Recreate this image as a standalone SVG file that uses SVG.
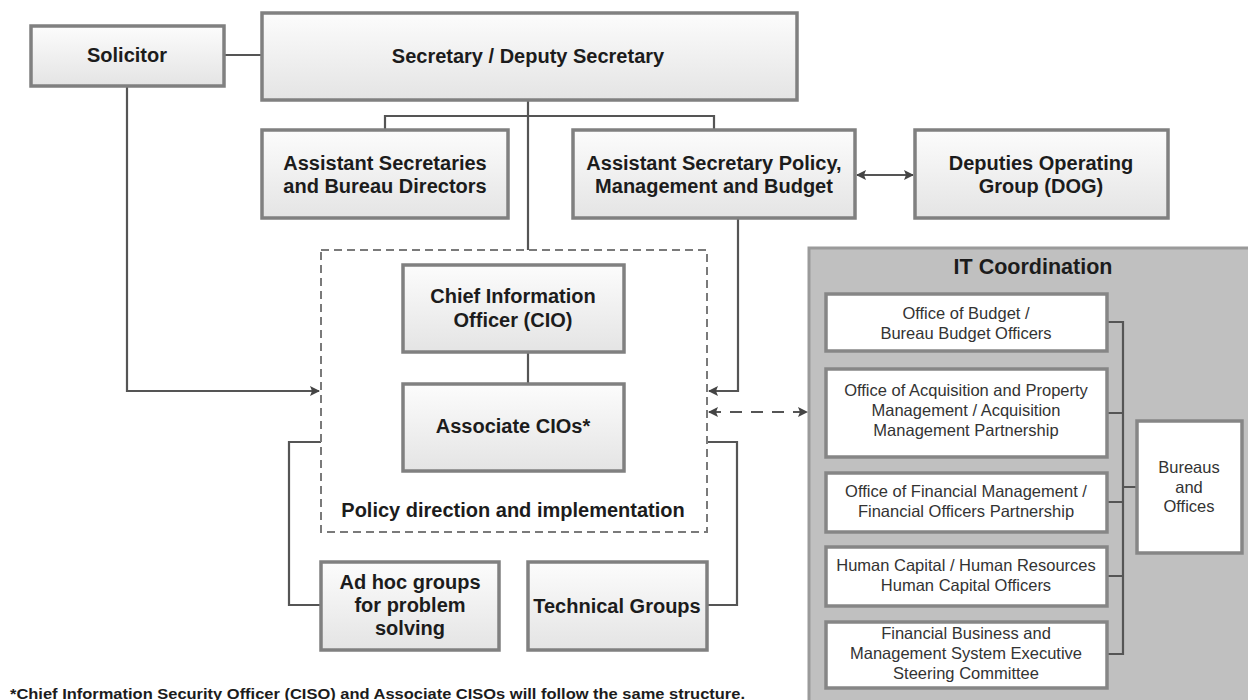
<svg xmlns="http://www.w3.org/2000/svg" width="1248" height="700" viewBox="0 0 1248 700">
<defs>
<linearGradient id="g" x1="0" y1="0" x2="0" y2="1">
<stop offset="0" stop-color="#fcfcfc"/>
<stop offset="1" stop-color="#e4e4e4"/>
</linearGradient>
<marker id="ah" viewBox="0 0 10 10" refX="9" refY="5" markerWidth="11" markerHeight="10" markerUnits="userSpaceOnUse" orient="auto-start-reverse">
<path d="M0,0 L10,5 L0,10 L2,5 Z" fill="#444"/>
</marker>
</defs>
<style>
.box{fill:url(#g);stroke:#808080;stroke-width:3.5}
.wbox{fill:#fff;stroke:#868686;stroke-width:3.5}
.t{font-family:"Liberation Sans",Arial,sans-serif;font-weight:bold;font-size:20px;fill:#1c1c1c;text-anchor:middle}
.s{font-family:"Liberation Sans",Arial,sans-serif;font-size:16.5px;fill:#333;text-anchor:middle}
.c{fill:none;stroke:#555;stroke-width:2.2}
.d{fill:none;stroke:#555;stroke-width:2.2;stroke-dasharray:12,9}
</style>
<rect width="1248" height="700" fill="#fff"/>
<g id="it-coordination">
<rect x="809" y="248" width="445" height="460" fill="#c0c0c0" stroke="#9a9a9a" stroke-width="3"/>
<text class="t" x="1033" y="274" style="font-size:21.5px">IT Coordination</text>
</g>
<g id="connectors">
<path class="c" d="M224 55 H262"/>
<path class="c" d="M528 100 V250"/>
<path class="c" d="M385 130 V116 H714 V130"/>
<path class="c" d="M127 86 V391 H319" marker-end="url(#ah)"/>
<path class="c" d="M738 218 V391 H709" marker-end="url(#ah)"/>
<path class="c" d="M857 175 H913" marker-start="url(#ah)" marker-end="url(#ah)"/>
<path class="d" d="M709 412 H807" marker-start="url(#ah)" marker-end="url(#ah)"/>
<path class="c" d="M528 352 V384"/>
<path class="c" d="M321 442 H289 V605 H321"/>
<path class="c" d="M707 442 H737 V605 H707"/>
<path class="c" d="M1107 322 H1123 V654 H1107 M1107 413 H1123 M1107 502 H1123 M1107 576 H1123 M1123 487 H1137"/>
</g>
<g id="solicitor">
<rect class="box" x="31" y="26" width="193" height="60"/>
<text class="t" x="127" y="62">Solicitor</text>
</g>
<g id="secretary">
<rect class="box" x="262" y="13" width="535" height="87"/>
<text class="t" x="528" y="63">Secretary / Deputy Secretary</text>
</g>
<g id="assistant-secretaries">
<rect class="box" x="262" y="130" width="246" height="88"/>
<text class="t" x="385" y="170">Assistant Secretaries</text>
<text class="t" x="385" y="193">and Bureau Directors</text>
</g>
<g id="aspmb">
<rect class="box" x="573" y="130" width="282" height="88"/>
<text class="t" x="714" y="170">Assistant Secretary Policy,</text>
<text class="t" x="714" y="193">Management and Budget</text>
</g>
<g id="dog">
<rect class="box" x="915" y="130" width="253" height="88"/>
<text class="t" x="1041" y="170">Deputies Operating</text>
<text class="t" x="1041" y="193">Group (DOG)</text>
</g>
<g id="policy-group">
<rect x="321" y="250" width="386" height="282" fill="none" stroke="#7a7a7a" stroke-width="2" stroke-dasharray="8,5"/>
<text class="t" x="513" y="517">Policy direction and implementation</text>
</g>
<g id="cio">
<rect class="box" x="403" y="265" width="221" height="87"/>
<text class="t" x="513" y="303">Chief Information</text>
<text class="t" x="513" y="327">Officer (CIO)</text>
</g>
<g id="associate-cios">
<rect class="box" x="403" y="384" width="221" height="87"/>
<text class="t" x="513" y="433">Associate CIOs*</text>
</g>
<g id="adhoc">
<rect class="box" x="321" y="562" width="178" height="88"/>
<text class="t" x="410" y="589">Ad hoc groups</text>
<text class="t" x="410" y="612">for problem</text>
<text class="t" x="410" y="635">solving</text>
</g>
<g id="technical">
<rect class="box" x="528" y="562" width="179" height="88"/>
<text class="t" x="617" y="613">Technical Groups</text>
</g>
<g id="office-budget">
<rect class="wbox" x="826" y="294" width="281" height="57"/>
<text class="s" x="966" y="319">Office of Budget /</text>
<text class="s" x="966" y="339">Bureau Budget Officers</text>
</g>
<g id="acquisition">
<rect class="wbox" x="826" y="369" width="281" height="88"/>
<text class="s" x="966" y="396">Office of Acquisition and Property</text>
<text class="s" x="966" y="416">Management / Acquisition</text>
<text class="s" x="966" y="436">Management Partnership</text>
</g>
<g id="financial-management">
<rect class="wbox" x="826" y="473" width="281" height="59"/>
<text class="s" x="966" y="497">Office of Financial Management /</text>
<text class="s" x="966" y="517">Financial Officers Partnership</text>
</g>
<g id="human-capital">
<rect class="wbox" x="826" y="547" width="281" height="59"/>
<text class="s" x="966" y="571">Human Capital / Human Resources</text>
<text class="s" x="966" y="591">Human Capital Officers</text>
</g>
<g id="financial-business">
<rect class="wbox" x="826" y="622" width="281" height="66"/>
<text class="s" x="966" y="639">Financial Business and</text>
<text class="s" x="966" y="659">Management System Executive</text>
<text class="s" x="966" y="679">Steering Committee</text>
</g>
<g id="bureaus">
<rect class="wbox" x="1137" y="421" width="105" height="132"/>
<text class="s" x="1189" y="473">Bureaus</text>
<text class="s" x="1189" y="493">and</text>
<text class="s" x="1189" y="512">Offices</text>
</g>
<text x="10" y="699" font-family="'Liberation Sans',Arial,sans-serif" font-weight="bold" font-size="15" fill="#1c1c1c" textLength="735" lengthAdjust="spacingAndGlyphs">*Chief Information Security Officer (CISO) and Associate CISOs will follow the same structure.</text>
</svg>
